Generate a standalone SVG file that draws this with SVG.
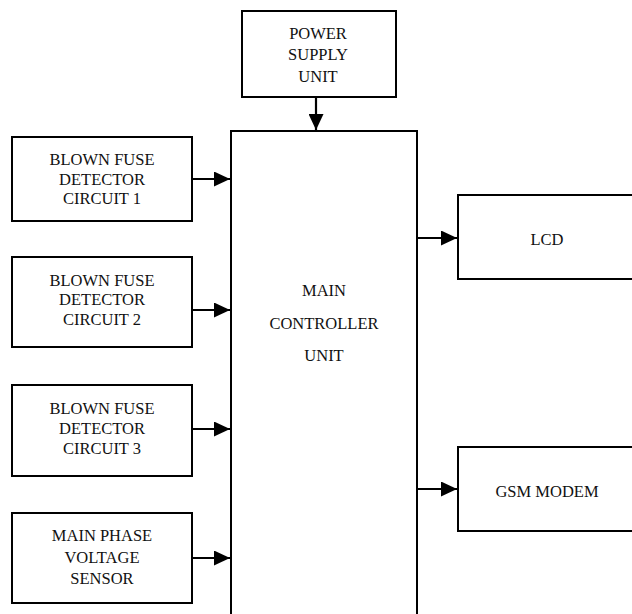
<svg xmlns="http://www.w3.org/2000/svg" width="632" height="614" viewBox="0 0 632 614">
<defs>
<style>
.box{fill:#fff;stroke:#000;stroke-width:2}
.t{font-family:'Liberation Serif','Times New Roman',serif;font-size:16.5px;fill:#111;text-anchor:middle}
.c{stroke:#000;stroke-width:2.2;fill:none}
</style>
<marker id="ah" viewBox="0 0 16 15" refX="16" refY="7.5" markerWidth="16" markerHeight="15" markerUnits="userSpaceOnUse" orient="auto">
<path d="M0,0 L16,7.5 L0,15 z" fill="#000"/>
</marker>
</defs>
<rect width="632" height="614" fill="#fff"/>
<g id="power">
<rect class="box" x="242" y="11" width="154" height="86"/>
<text class="t" x="318" y="39">POWER</text>
<text class="t" x="318" y="60">SUPPLY</text>
<text class="t" x="318" y="82">UNIT</text>
</g>
<g id="main">
<rect class="box" x="231" y="131" width="186" height="500"/>
<text class="t" x="324" y="296">MAIN</text>
<text class="t" x="324" y="329">CONTROLLER</text>
<text class="t" x="324" y="361">UNIT</text>
</g>
<g id="bfd1">
<rect class="box" x="12" y="137" width="180" height="84"/>
<text class="t" x="102" y="165">BLOWN FUSE</text>
<text class="t" x="102" y="184.5">DETECTOR</text>
<text class="t" x="102" y="204">CIRCUIT 1</text>
</g>
<g id="bfd2">
<rect class="box" x="12" y="257" width="180" height="90"/>
<text class="t" x="102" y="285.5">BLOWN FUSE</text>
<text class="t" x="102" y="305">DETECTOR</text>
<text class="t" x="102" y="324.5">CIRCUIT 2</text>
</g>
<g id="bfd3">
<rect class="box" x="12" y="385" width="180" height="91"/>
<text class="t" x="102" y="413.5">BLOWN FUSE</text>
<text class="t" x="102" y="433.5">DETECTOR</text>
<text class="t" x="102" y="453.5">CIRCUIT 3</text>
</g>
<g id="sensor">
<rect class="box" x="12" y="513" width="180" height="90"/>
<text class="t" x="102" y="541">MAIN PHASE</text>
<text class="t" x="102" y="562.5">VOLTAGE</text>
<text class="t" x="102" y="584">SENSOR</text>
</g>
<g id="lcd">
<rect class="box" x="458" y="195" width="190" height="84"/>
<text class="t" x="547" y="245">LCD</text>
</g>
<g id="gsm">
<rect class="box" x="458" y="447" width="190" height="84"/>
<text class="t" x="547" y="497">GSM MODEM</text>
</g>
<g id="connectors">
<line class="c" x1="316" y1="97" x2="316" y2="130" marker-end="url(#ah)"/>
<line class="c" x1="192" y1="179" x2="230" y2="179" marker-end="url(#ah)"/>
<line class="c" x1="192" y1="310" x2="230" y2="310" marker-end="url(#ah)"/>
<line class="c" x1="192" y1="429" x2="230" y2="429" marker-end="url(#ah)"/>
<line class="c" x1="192" y1="558" x2="230" y2="558" marker-end="url(#ah)"/>
<line class="c" x1="417" y1="238" x2="457" y2="238" marker-end="url(#ah)"/>
<line class="c" x1="417" y1="489" x2="457" y2="489" marker-end="url(#ah)"/>
</g>
</svg>
